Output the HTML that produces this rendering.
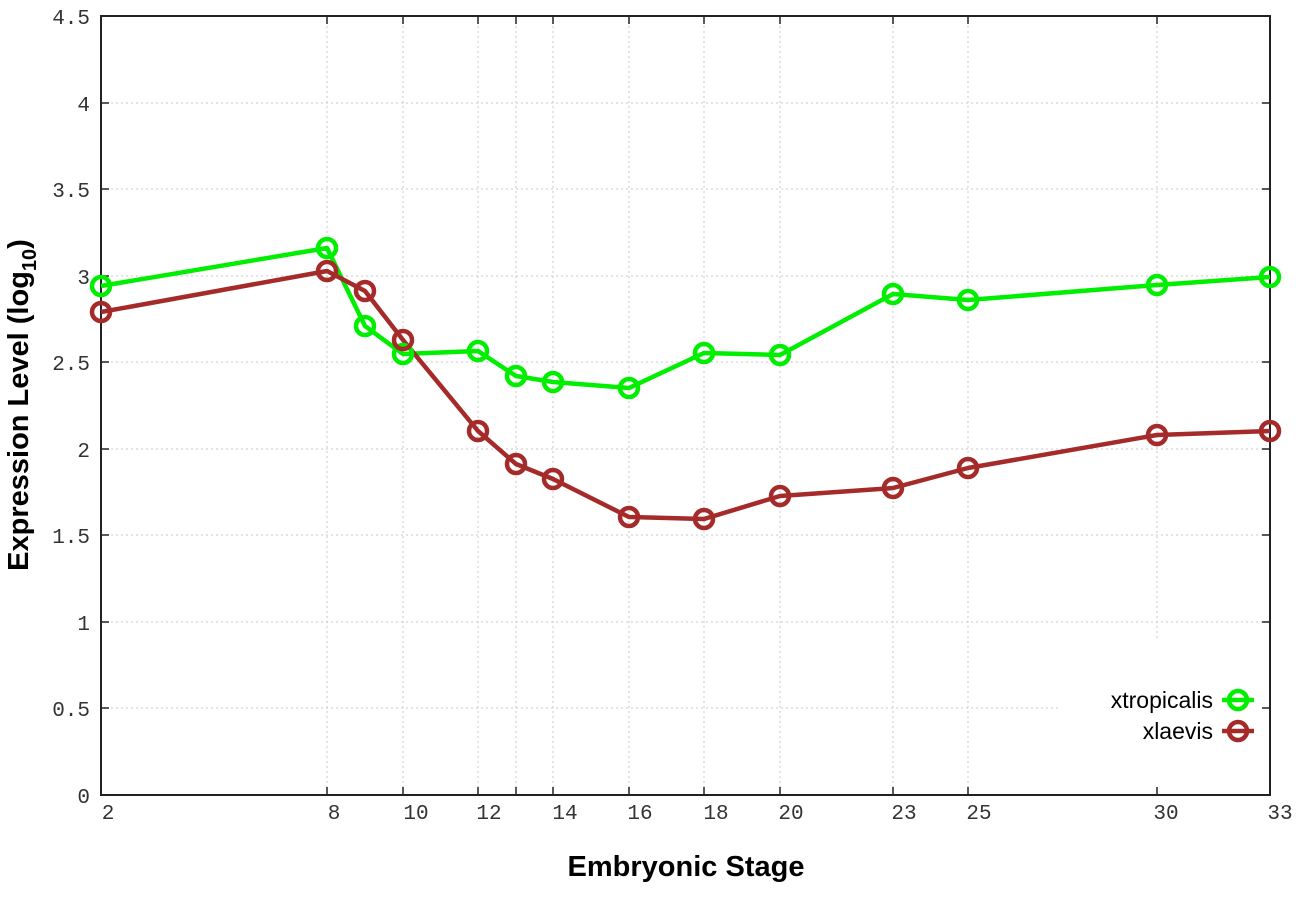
<!DOCTYPE html>
<html><head><meta charset="utf-8"><style>body{margin:0;background:#fff}svg{display:block}</style></head><body>
<svg width="1296" height="907" xmlns="http://www.w3.org/2000/svg">
<rect width="1296" height="907" fill="#fff"/>
<g stroke="#c8c8c8" stroke-width="1" stroke-dasharray="2,3">
<line x1="101" y1="708" x2="1060" y2="708"/><line x1="101" y1="622" x2="1270" y2="622"/><line x1="101" y1="535" x2="1270" y2="535"/><line x1="101" y1="449" x2="1270" y2="449"/><line x1="101" y1="362" x2="1270" y2="362"/><line x1="101" y1="276" x2="1270" y2="276"/><line x1="101" y1="189" x2="1270" y2="189"/><line x1="101" y1="103" x2="1270" y2="103"/>
<line x1="327" y1="16" x2="327" y2="795"/><line x1="403" y1="16" x2="403" y2="795"/><line x1="478" y1="16" x2="478" y2="795"/><line x1="516" y1="16" x2="516" y2="795"/><line x1="553" y1="16" x2="553" y2="795"/><line x1="629" y1="16" x2="629" y2="795"/><line x1="704" y1="16" x2="704" y2="795"/><line x1="780" y1="16" x2="780" y2="795"/><line x1="893" y1="16" x2="893" y2="795"/><line x1="968" y1="16" x2="968" y2="795"/><line x1="1157" y1="16" x2="1157" y2="640"/>
</g>
<rect x="101" y="16" width="1169" height="779" fill="none" stroke="#222" stroke-width="2"/>
<g stroke="#222" stroke-width="1.5">
<path d="M101 708h8M101 622h8M101 535h8M101 449h8M101 362h8M101 276h8M101 189h8M101 103h8M1270 708h-8M1270 622h-8M1270 535h-8M1270 449h-8M1270 362h-8M1270 276h-8M1270 189h-8M1270 103h-8"/>
<path d="M327 795v-8M403 795v-8M478 795v-8M516 795v-8M553 795v-8M629 795v-8M704 795v-8M780 795v-8M893 795v-8M968 795v-8M1157 795v-8M327 16v8M403 16v8M478 16v8M516 16v8M553 16v8M629 16v8M704 16v8M780 16v8M893 16v8M968 16v8M1157 16v8"/>
</g>
<g font-family="Liberation Mono, monospace" font-size="21" fill="#333" text-anchor="end">
<text x="90" y="803">0</text><text x="90" y="716">0.5</text><text x="90" y="630">1</text><text x="90" y="543">1.5</text><text x="90" y="457">2</text><text x="90" y="370">2.5</text><text x="90" y="284">3</text><text x="90" y="197">3.5</text><text x="90" y="111">4</text><text x="90" y="24">4.5</text>
</g>
<g font-family="Liberation Mono, monospace" font-size="21" fill="#333" text-anchor="middle">
<text x="108" y="819">2</text><text x="334" y="819">8</text><text x="416" y="819">10</text><text x="489" y="819">12</text><text x="565" y="819">14</text><text x="640" y="819">16</text><text x="716" y="819">18</text><text x="791" y="819">20</text><text x="904" y="819">23</text><text x="979" y="819">25</text><text x="1166" y="819">30</text><text x="1280" y="819">33</text>
</g>
<text x="686" y="876" font-family="Liberation Sans, sans-serif" font-weight="bold" font-size="29" text-anchor="middle" fill="#000">Embryonic Stage</text>
<text transform="translate(28,405) rotate(-90)" font-family="Liberation Sans, sans-serif" font-weight="bold" font-size="29" text-anchor="middle" fill="#000">Expression Level (log<tspan font-size="20" dy="8">10</tspan><tspan dy="-8">)</tspan></text>
<g fill="none" stroke-width="4.5" stroke-linejoin="round">
<polyline stroke="#00ee00" points="101,286 327,248 365,326 403,354 478,351 516,376 553,382 629,388 704,353 780,355 893,294 968,300 1157,285 1270,277"/>
<polyline stroke="#a52a2a" points="101,312 327,271 365,291 403,340 478,431 516,464 553,479 629,517 704,519 780,496 893,488 968,468 1157,435 1270,431"/>
</g>
<g fill="none" stroke="#00ee00" stroke-width="4.5">
<circle cx="101" cy="286" r="9"/><circle cx="327" cy="248" r="9"/><circle cx="365" cy="326" r="9"/><circle cx="403" cy="354" r="9"/><circle cx="478" cy="351" r="9"/><circle cx="516" cy="376" r="9"/><circle cx="553" cy="382" r="9"/><circle cx="629" cy="388" r="9"/><circle cx="704" cy="353" r="9"/><circle cx="780" cy="355" r="9"/><circle cx="893" cy="294" r="9"/><circle cx="968" cy="300" r="9"/><circle cx="1157" cy="285" r="9"/><circle cx="1270" cy="277" r="9"/>
</g>
<g fill="none" stroke="#a52a2a" stroke-width="4.5">
<circle cx="101" cy="312" r="9"/><circle cx="327" cy="271" r="9"/><circle cx="365" cy="291" r="9"/><circle cx="403" cy="340" r="9"/><circle cx="478" cy="431" r="9"/><circle cx="516" cy="464" r="9"/><circle cx="553" cy="479" r="9"/><circle cx="629" cy="517" r="9"/><circle cx="704" cy="519" r="9"/><circle cx="780" cy="496" r="9"/><circle cx="893" cy="488" r="9"/><circle cx="968" cy="468" r="9"/><circle cx="1157" cy="435" r="9"/><circle cx="1270" cy="431" r="9"/>
</g>
<g font-family="Liberation Sans, sans-serif" font-size="23" fill="#000" text-anchor="end">
<text x="1213" y="708">xtropicalis</text><text x="1213" y="739">xlaevis</text>
</g>
<g fill="none" stroke-width="4.5">
<line x1="1222" y1="700" x2="1254" y2="700" stroke="#00ee00"/><circle cx="1238" cy="700" r="9" stroke="#00ee00"/>
<line x1="1222" y1="731" x2="1254" y2="731" stroke="#a52a2a"/><circle cx="1238" cy="731" r="9" stroke="#a52a2a"/>
</g>
</svg>
</body></html>
